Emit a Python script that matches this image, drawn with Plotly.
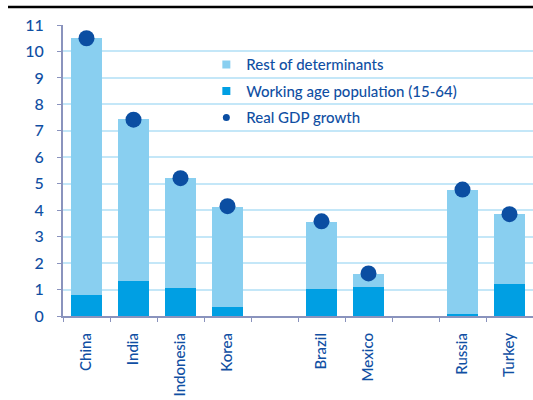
import plotly.graph_objects as go

# Countries (blank entries leave the gaps between regional groups)
countries = ["China", "India", "Indonesia", "Korea", " ", "Brazil", "Mexico", "  ", "Russia", "Turkey"]
working_age = [0.8, 1.33, 1.07, 0.35, None, 1.01, 1.11, None, 0.07, 1.21]
rest_of_determinants = [9.7, 6.11, 4.13, 3.77, None, 2.56, 0.49, None, 4.69, 2.63]
real_gdp_growth = [10.5, 7.42, 5.21, 4.15, None, 3.58, 1.61, None, 4.78, 3.85]

LIGHT = "#89cff0"
MID = "#009fe3"
DARK = "#0b4ea2"
TEXT = "#104fa3"
GRID = "#c4e7f8"
AXIS = "#8a93bd"
FONT = "Lato"
WEIGHT = 500

fig = go.Figure()

# Stacked bars: working-age contribution at the bottom, the rest on top
fig.add_trace(go.Bar(x=countries, y=working_age, marker=dict(color=MID, line=dict(width=0)),
                     showlegend=False, legendgroup="wap"))
fig.add_trace(go.Bar(x=countries, y=rest_of_determinants, marker=dict(color=LIGHT, line=dict(width=0)),
                     showlegend=False, legendgroup="rest"))
fig.add_trace(go.Scatter(x=countries, y=real_gdp_growth, mode="markers",
                         marker=dict(color=DARK, size=16), showlegend=False, legendgroup="gdp"))

# Legend entries with small square / dot symbols
fig.add_trace(go.Scatter(x=[None], y=[None], mode="markers", name="Rest of determinants",
                         marker=dict(color=LIGHT, symbol="square", size=8), legendgroup="rest"))
fig.add_trace(go.Scatter(x=[None], y=[None], mode="markers", name="Working age population (15-64)",
                         marker=dict(color=MID, symbol="square", size=8), legendgroup="wap"))
fig.add_trace(go.Scatter(x=[None], y=[None], mode="markers", name="Real GDP growth",
                         marker=dict(color=DARK, symbol="circle", size=7), legendgroup="gdp"))

fig.update_layout(
    width=533, height=400,
    margin=dict(l=63, r=0, t=25, b=84),
    paper_bgcolor="white", plot_bgcolor="white",
    barmode="stack", bargap=0.32,
    font=dict(family=FONT, color=TEXT, size=15, weight=WEIGHT),
    showlegend=True,
    legend=dict(x=0.305, y=0.92, xanchor="left", yanchor="top", bgcolor="rgba(0,0,0,0)",
                font=dict(size=15, color=TEXT, weight=WEIGHT), tracegroupgap=4, itemwidth=30,
                traceorder="grouped"),
    xaxis=dict(type="category", categoryorder="array", categoryarray=countries,
               tickangle=-90, tickson="boundaries", ticks="outside", ticklen=4,
               tickcolor=AXIS, showline=True, linecolor=AXIS, linewidth=2,
               showgrid=False, tickfont=dict(size=15, color=TEXT, weight=WEIGHT),
               ticklabelstandoff=9, automargin=False, range=[-0.5, 9.5]),
    yaxis=dict(range=[0, 11], dtick=1, showgrid=True, gridcolor=GRID, gridwidth=1.5,
               showline=True, linecolor=AXIS, linewidth=2, ticks="outside", ticklen=4,
               tickcolor=AXIS, zeroline=False, tickfont=dict(size=16, color=TEXT, weight=WEIGHT),
               ticklabelstandoff=10, automargin=False),
    shapes=[dict(type="line", xref="paper", yref="paper", x0=-0.117, x1=1.0,
                 y0=1.062, y1=1.062, line=dict(color="black", width=2.5))],
)

fig.write_html("out.html")
